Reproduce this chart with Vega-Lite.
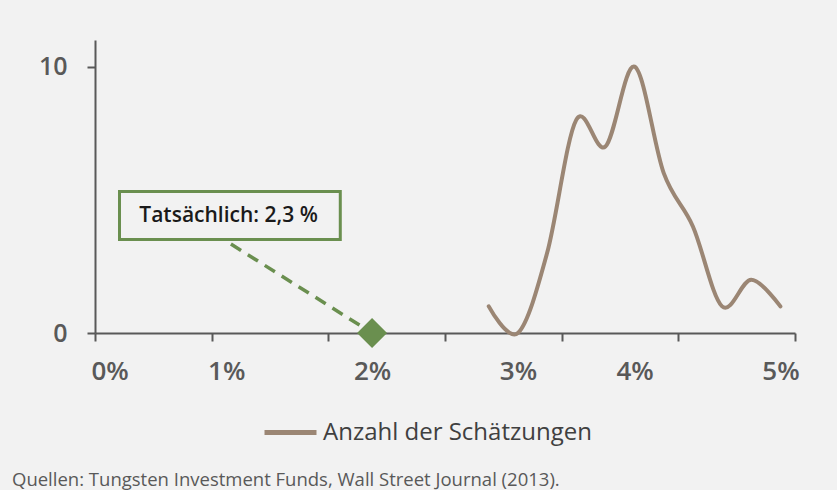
{
  "$schema": "https://vega.github.io/schema/vega-lite/v6.json",
  "width": 700,
  "height": 293,
  "autosize": {"type": "none"},
  "padding": {"left": 95, "top": 40, "right": 42, "bottom": 157},
  "background": "#f2f2f2",
  "config": {"view": {"stroke": null}, "font": "Open Sans"},
  "title": {
    "text": "Quellen: Tungsten Investment Funds, Wall Street Journal (2013).",
    "orient": "bottom",
    "anchor": "start",
    "frame": "group",
    "dx": -83,
    "offset": 0,
    "dy": 26,
    "baseline": "top",
    "fontSize": 18.5,
    "fontWeight": "normal",
    "color": "#595959",
    "font": "Open Sans"
  },
  "datasets": {
    "estimates": [
      {"x": 13.5, "y": 1},
      {"x": 14.5, "y": 0},
      {"x": 15.5, "y": 3},
      {"x": 16.5, "y": 8},
      {"x": 17.5, "y": 7},
      {"x": 18.5, "y": 10},
      {"x": 19.5, "y": 6},
      {"x": 20.5, "y": 4},
      {"x": 21.5, "y": 1},
      {"x": 22.5, "y": 2},
      {"x": 23.5, "y": 1}
    ],
    "box": [{"x": 0.84, "x2": 8.41, "y": 3.51, "y2": 5.31}],
    "label": [{"x": 4.58, "y": 4.41, "text": "Tatsächlich: 2,3 %"}],
    "pointer": [{"x": 4.66, "y": 3.34, "x2": 9.5, "y2": 0}],
    "actual": [{"x": 9.5, "y": 0}]
  },
  "layer": [
    {
      "data": {"name": "estimates"},
      "mark": {"type": "line", "interpolate": "cardinal", "strokeWidth": 4, "strokeCap": "round"},
      "encoding": {
        "x": {
          "field": "x",
          "type": "quantitative",
          "scale": {"domain": [0, 24], "nice": false, "zero": false},
          "axis": {
            "title": null,
            "grid": false,
            "values": [0, 0.5, 4, 4.5, 8, 9.5, 12, 14.5, 16, 18.5, 20, 23.5, 24],
            "labelExpr": "datum.value==0.5?'0%':datum.value==4.5?'1%':datum.value==9.5?'2%':datum.value==14.5?'3%':datum.value==18.5?'4%':datum.value==23.5?'5%':''",
            "tickOpacity": {"condition": {"test": "datum.value % 4 == 0", "value": 1}, "value": 0},
            "labelOverlap": false,
            "labelFlush": false,
            "labelBound": false,
            "domainColor": "#595959",
            "domainWidth": 2,
            "tickColor": "#595959",
            "tickWidth": 2,
            "tickSize": 8,
            "labelFontSize": 26,
            "labelFontWeight": 600,
            "labelColor": "#595959",
            "labelPadding": 17
          }
        },
        "y": {
          "field": "y",
          "type": "quantitative",
          "scale": {"domain": [0, 11], "nice": false},
          "axis": {
            "title": null,
            "grid": false,
            "values": [0, 10],
            "domainColor": "#595959",
            "domainWidth": 2,
            "tickColor": "#595959",
            "tickWidth": 2,
            "tickSize": 8,
            "labelFontSize": 25,
            "labelFontWeight": 600,
            "labelColor": "#595959",
            "labelPadding": 20
          }
        },
        "color": {
          "datum": "Anzahl der Schätzungen",
          "scale": {"range": ["#9b8674"]},
          "legend": {
            "title": null,
            "orient": "none",
            "legendX": 167,
            "legendY": 364,
            "symbolType": "stroke",
            "symbolSize": 2704,
            "symbolStrokeWidth": 5,
            "labelFontSize": 24,
            "labelFont": "Open Sans",
            "labelColor": "#404040",
            "labelOffset": 4,
            "labelLimit": 0
          }
        }
      }
    },
    {
      "data": {"name": "box"},
      "mark": {"type": "rect", "fill": "#f2f2f2", "stroke": "#6a8f4f", "strokeWidth": 3},
      "encoding": {
        "x": {"field": "x", "type": "quantitative"},
        "x2": {"field": "x2"},
        "y": {"field": "y", "type": "quantitative"},
        "y2": {"field": "y2"}
      }
    },
    {
      "data": {"name": "label"},
      "mark": {"type": "text", "fontSize": 21, "fontWeight": 600, "color": "#1a1a1a", "baseline": "middle", "align": "center"},
      "encoding": {
        "x": {"field": "x", "type": "quantitative"},
        "y": {"field": "y", "type": "quantitative"},
        "text": {"field": "text"}
      }
    },
    {
      "data": {"name": "pointer"},
      "mark": {"type": "rule", "color": "#6a8f4f", "strokeWidth": 3.5, "strokeDash": [12, 8]},
      "encoding": {
        "x": {"field": "x", "type": "quantitative"},
        "y": {"field": "y", "type": "quantitative"},
        "x2": {"field": "x2"},
        "y2": {"field": "y2"}
      }
    },
    {
      "data": {"name": "actual"},
      "mark": {"type": "point", "shape": "diamond", "size": 900, "filled": true, "color": "#6a8f4f", "opacity": 1},
      "encoding": {
        "x": {"field": "x", "type": "quantitative"},
        "y": {"field": "y", "type": "quantitative"}
      }
    }
  ]
}
